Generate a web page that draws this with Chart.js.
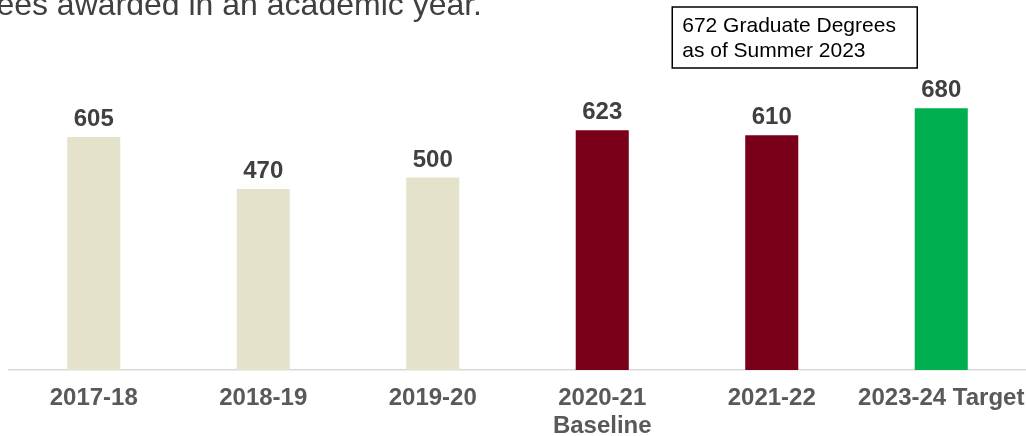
<!DOCTYPE html>
<html>
<head>
<meta charset="utf-8">
<script src="https://cdn.jsdelivr.net/npm/chart.js@4"></script>
<style>
  html, body { margin: 0; padding: 0; background: #fff; }
  #wrap { width: 1026px; height: 436px; position: relative; }
</style>
</head>
<body>
<div id="wrap"><canvas id="chartDegrees"></canvas></div>
<script>
var categories = ['2017-18', '2018-19', '2019-20', ['2020-21', 'Baseline'], '2021-22', '2023-24 Target'];
var degrees = [605, 470, 500, 623, 610, 680];
var barColors = ['#E4E2CA', '#E4E2CA', '#E4E2CA', '#7A0019', '#7A0019', '#00B050'];
var titleText = 'Number of graduate degrees awarded in an academic year.';
var noteLines = ['672 Graduate Degrees', 'as of Summer 2023'];

var fontFamily = '"Liberation Sans", Arial, sans-serif';

// title, value labels and the note box
var extrasPlugin = {
  id: 'extras',
  afterDatasetsDraw: function (chart) {
    var ctx = chart.ctx;
    var meta = chart.getDatasetMeta(0);
    ctx.save();

    ctx.font = 'bold 24px ' + fontFamily;
    ctx.fillStyle = '#404040';
    ctx.textAlign = 'center';
    ctx.textBaseline = 'alphabetic';
    meta.data.forEach(function (bar, i) {
      ctx.fillText(String(degrees[i]), bar.x, bar.y - 11);
    });

    ctx.font = '32px ' + fontFamily;
    ctx.fillStyle = '#404040';
    ctx.textAlign = 'right';
    ctx.fillText(titleText, 482, 15);

    var last = meta.data[meta.data.length - 1];
    var bx = last.x - 269, by = 7, bw = 245, bh = 61;
    ctx.fillStyle = '#fff';
    ctx.fillRect(bx, by, bw, bh);
    ctx.strokeStyle = '#000';
    ctx.lineWidth = 1.5;
    ctx.strokeRect(bx, by, bw, bh);
    ctx.font = '21px ' + fontFamily;
    ctx.fillStyle = '#000';
    ctx.textAlign = 'left';
    ctx.fillText(noteLines[0], bx + 10, by + 25);
    ctx.fillText(noteLines[1], bx + 10, by + 50);

    ctx.restore();
  }
};

var ctx = document.getElementById('chartDegrees');
new Chart(ctx, {
  type: 'bar',
  data: {
    labels: categories,
    datasets: [
      {
        label: 'Graduate Degrees',
        data: degrees,
        backgroundColor: barColors,
        barPercentage: 0.313,
        categoryPercentage: 1.0
      }
    ]
  },
  options: {
    responsive: true,
    maintainAspectRatio: false,
    animation: false,
    layout: {
      padding: { top: 62, left: 9, right: 0, bottom: 0 }
    },
    scales: {
      x: {
        grid: { display: false, drawTicks: false },
        border: { display: true, color: '#D9D9D9', width: 1.5 },
        ticks: {
          color: '#595959',
          padding: 14,
          maxRotation: 0,
          autoSkip: false,
          font: { family: fontFamily, size: 24, weight: 'bold', lineHeight: 1.1667 }
        },
        afterFit: function (scale) {
          scale.height = 66;
          scale.paddingLeft = 0;
          scale.paddingRight = 0;
        }
      },
      y: {
        display: false,
        min: 0,
        max: 800
      }
    },
    plugins: {
      legend: { display: false },
      title: { display: false },
      tooltip: { enabled: false }
    }
  },
  plugins: [extrasPlugin]
});
</script>
</body>
</html>
